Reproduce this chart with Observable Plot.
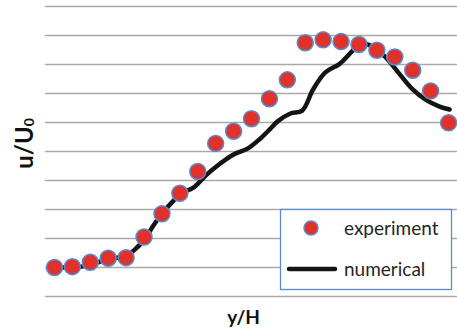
<!DOCTYPE html>
<html>
<head>
<meta charset="utf-8">
<script src="https://cdn.jsdelivr.net/npm/d3@7"></script>
<script src="https://cdn.jsdelivr.net/npm/@observablehq/plot@0.6"></script>
<style>
  html, body { margin: 0; padding: 0; background: #fff; }
  #wrap { position: relative; width: 457px; height: 332px; overflow: hidden; }
  #legend { position: absolute; left: 0; top: 0; }
</style>
</head>
<body>
<div id="wrap"></div>
<script>
// Experiment points (x = station index, y = u/U0)
const expX = [0,1,2,3,4,5,6,7,8,9,10,11,12,13,14,15,16,17,18,19,20,21,22];
const expY = [1.00,1.03,1.18,1.32,1.34,2.05,2.85,3.56,4.31,5.28,5.70,6.13,6.82,7.47,8.75,8.85,8.79,8.69,8.49,8.26,7.80,7.09,5.99];

// Numerical curve (traced)
const numX = [0,1.5,3,4,4.44,5.06,5.56,6.06,6.61,7.06,7.78,8.44,9.11,10,10.78,11.5,12.06,12.44,13.17,13.83,14.44,15.11,15.94,16.61,17.06,17.61,18.44,19.28,20,20.78,21.5,22.06];
const numY = [1.00,1.03,1.28,1.41,1.59,2.0,2.48,2.90,3.28,3.55,3.76,4.17,4.52,4.90,5.10,5.45,5.79,6.03,6.31,6.41,7.14,7.72,8.03,8.45,8.72,8.66,8.28,7.66,7.14,6.76,6.55,6.45];

const gridVals = [0,1,2,3,4,5,6,7,8,9,10];
const xLabel = "y/H";
const yLabel = "u/U";
const ySub = "0";
const legendLabels = ["experiment", "numerical"];

const expData = expX.map((x, i) => ({x, y: expY[i]}));
const numData = numX.map((x, i) => ({x, y: numY[i]}));

const RED = "#e0312a", BLUE = "#5b8bcf";
const FONT = "Lato, 'Open Sans', sans-serif";

const chart = Plot.plot({
  width: 457,
  height: 332,
  marginTop: 6,
  marginBottom: 36,
  marginLeft: 45,
  marginRight: 0,
  x: {domain: [-0.5, 22.5], axis: null},
  y: {domain: [0, 10], axis: null},
  style: {fontFamily: FONT, background: "#fff"},
  marks: [
    Plot.ruleY(gridVals, {stroke: "#a9a9a9", strokeWidth: 1.5}),
    Plot.line(numData, {x: "x", y: "y", curve: "catmull-rom", stroke: "#141414", strokeWidth: 4.5, strokeLinejoin: "round", strokeLinecap: "round"}),
    Plot.dot(expData, {x: "x", y: "y", r: 8, fill: RED, stroke: BLUE, strokeWidth: 1.5}),
    Plot.text([xLabel], {frameAnchor: "bottom", textAnchor: "middle", lineAnchor: "middle", dx: -8, dy: 21, fontSize: 19, fontWeight: "bold", fill: "#111"}),
    Plot.text([yLabel], {frameAnchor: "left", textAnchor: "middle", lineAnchor: "middle", dx: -20, dy: -8, rotate: -90, fontSize: 24, fontWeight: "bold", fill: "#111"})
  ]
});
document.getElementById("wrap").appendChild(chart);

// subscript on the y label
d3.select(chart).selectAll("text")
  .filter(function() { return this.textContent === yLabel; })
  .append("tspan").attr("font-size", 14).attr("dy", "0.05em").text(ySub);

// Legend overlay
const lg = d3.select("#wrap").append("svg")
  .attr("id", "legend").attr("width", 457).attr("height", 332)
  .style("font-family", FONT);
lg.append("rect").attr("x", 280.5).attr("y", 209.5).attr("width", 171).attr("height", 80)
  .attr("fill", "#fff").attr("stroke", BLUE).attr("stroke-width", 1.3);
lg.append("circle").attr("cx", 311).attr("cy", 228).attr("r", 7)
  .attr("fill", RED).attr("stroke", BLUE).attr("stroke-width", 1.5);
lg.append("line").attr("x1", 289).attr("x2", 335).attr("y1", 269).attr("y2", 269)
  .attr("stroke", "#141414").attr("stroke-width", 4.5).attr("stroke-linecap", "round");
lg.selectAll("text.l").data(legendLabels).join("text")
  .attr("x", 344).attr("y", (d, i) => i === 0 ? 228 : 269)
  .attr("dy", "0.35em").attr("font-size", 19).attr("fill", "#262626").text(d => d);
</script>
</body>
</html>
